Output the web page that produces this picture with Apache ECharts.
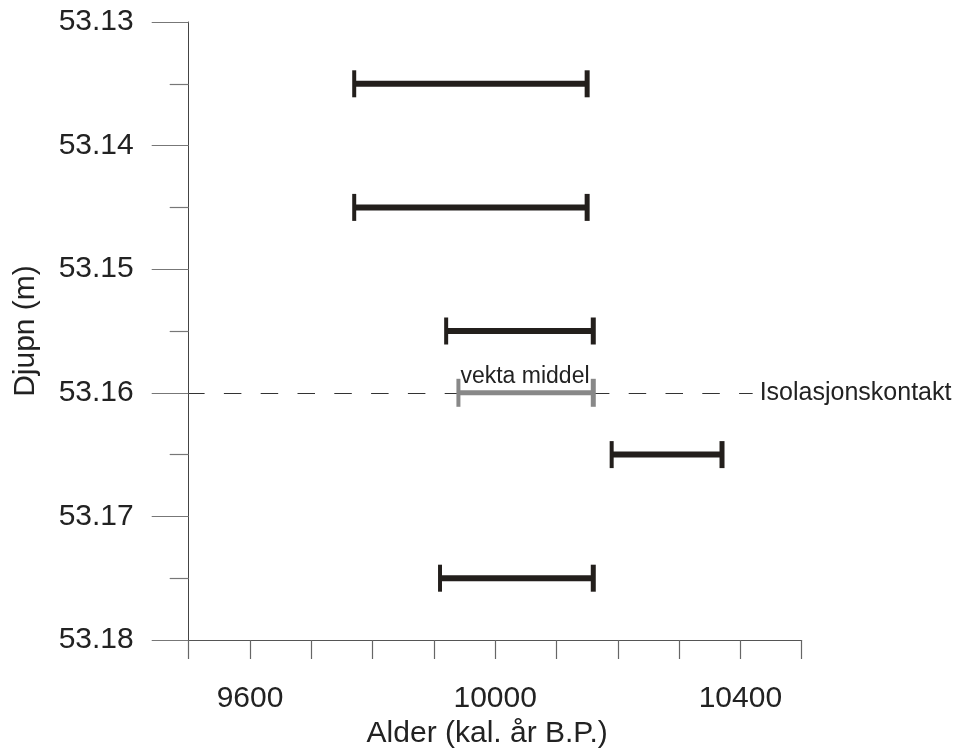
<!DOCTYPE html>
<html>
<head>
<meta charset="utf-8">
<script src="https://cdn.jsdelivr.net/npm/echarts@6/dist/echarts.min.js"></script>
<style>html,body{margin:0;padding:0;background:#fff}#c{width:959px;height:751px}</style>
</head>
<body>
<div id="c"></div>
<script>
// Depth (m) of each dated sample
const depths = [53.135, 53.145, 53.155, 53.165, 53.175];
// Calibrated age range (kal. år B.P.) — lower and upper bounds
const ageMin = [9770, 9770, 9920, 10190, 9910];
const ageMax = [10150, 10150, 10160, 10370, 10160];
// Weighted mean ("vekta middel")
const meanDepth = [53.16];
const meanMin = [9940];
const meanMax = [10160];
// Isolation contact depth
const contactDepth = 53.16;
const contactEndAge = 10420;
// X tick labels shown
const xTickLabels = [9600, 10000, 10400];

const FONT = '"Liberation Sans", Arial, sans-serif';

const rangeData = depths.map((d, i) => [d, ageMin[i], ageMax[i]]);
const meanData = meanDepth.map((d, i) => [d, meanMin[i], meanMax[i]]);

function makeRender(color, lw, capW, capH, label) {
  return function (params, api) {
    const y = api.value(0), a = api.value(1), b = api.value(2);
    const p1 = api.coord([a, y]);
    const p2 = api.coord([b, y]);
    const children = [
      {type: 'line', shape: {x1: p1[0], y1: p1[1], x2: p2[0], y2: p2[1]}, style: {stroke: color, lineWidth: lw}},
      {type: 'line', shape: {x1: p1[0], y1: p1[1] - capH / 2, x2: p1[0], y2: p1[1] + capH / 2}, style: {stroke: color, lineWidth: capW}},
      {type: 'line', shape: {x1: p2[0], y1: p2[1] - capH / 2, x2: p2[0], y2: p2[1] + capH / 2}, style: {stroke: color, lineWidth: capW + 1}}
    ];
    if (label) {
      children.push({type: 'text', x: p1[0] + 2, y: p1[1] - 5,
        style: {text: label, fill: '#222', font: '23px ' + FONT, textAlign: 'left', textVerticalAlign: 'bottom'}});
    }
    return {type: 'group', children: children};
  };
}

const chart = echarts.init(document.getElementById('c'));
chart.setOption({
  animation: false,
  grid: {left: 188.7, right: 157.3, top: 22, bottom: 111, containLabel: false, outerBoundsMode: 'none'},
  xAxis: {
    type: 'value', min: 9500, max: 10500, interval: 100,
    axisLine: {show: true, onZero: false, lineStyle: {color: '#555', width: 1}},
    axisTick: {show: true, length: 19, lineStyle: {color: '#666', width: 1.2}},
    splitLine: {show: false},
    axisLabel: {
      margin: 44, fontSize: 30, color: '#222', fontFamily: FONT,
      formatter: v => xTickLabels.indexOf(Math.round(v)) >= 0 ? String(Math.round(v)) : ''
    },
    name: 'Alder (kal. år B.P.)', nameLocation: 'middle', nameGap: 75,
    nameTextStyle: {fontSize: 30, color: '#222', fontFamily: FONT, padding: [0, 16, 0, 0]}
  },
  yAxis: {
    type: 'value', inverse: true, min: 53.13, max: 53.18, interval: 0.01,
    axisLine: {show: true, onZero: false, lineStyle: {color: '#444', width: 1}},
    axisTick: {show: true, length: 37, lineStyle: {color: '#777', width: 1.2}},
    minorTick: {show: true, splitNumber: 2, length: 19, lineStyle: {color: '#777', width: 1.2}},
    splitLine: {show: false},
    axisLabel: {margin: 55, fontSize: 30, color: '#222', fontFamily: FONT, formatter: v => v.toFixed(2)},
    name: 'Djupn (m)', nameLocation: 'middle', nameGap: 148,
    nameTextStyle: {fontSize: 30, color: '#222', fontFamily: FONT}
  },
  series: [
    {
      type: 'custom', data: rangeData, renderItem: makeRender('#231f1c', 6, 4, 27),
      encode: {x: [1, 2], y: 0}, silent: true, z: 3,
      markLine: {
        silent: true, symbol: 'none', z: 1,
        lineStyle: {color: '#333', width: 1, type: [17.5, 19.3], dashOffset: 1.6},
        label: {show: true, position: 'end', distance: 7, formatter: 'Isolasjonskontakt',
          fontSize: 25, color: '#222', fontFamily: FONT},
        data: [[{coord: [9500, contactDepth]}, {coord: [contactEndAge, contactDepth]}]]
      }
    },
    {
      type: 'custom', data: meanData, renderItem: makeRender('#888888', 5, 4, 28, 'vekta middel'),
      encode: {x: [1, 2], y: 0}, silent: true, z: 10
    }
  ]
});
</script>
</body>
</html>
